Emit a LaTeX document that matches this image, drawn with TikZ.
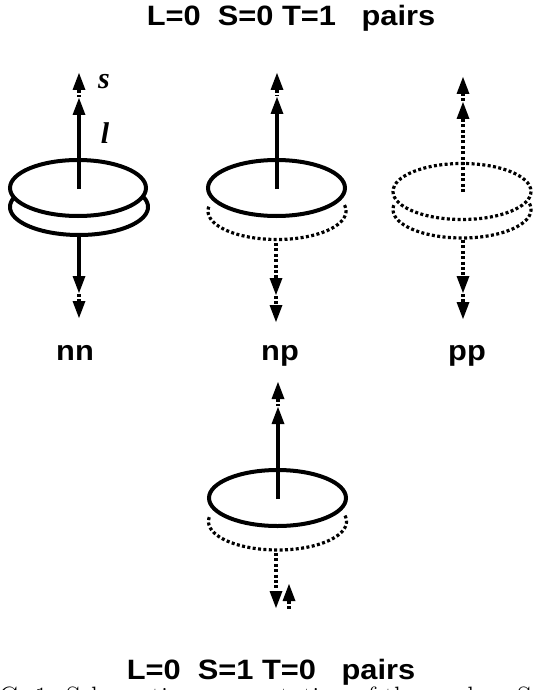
\documentclass[tikz,border=0pt]{standalone}
\usepackage{fontspec}
\setmainfont{Liberation Sans}
\newfontfamily\serifit{Liberation Serif}
\newfontfamily\captfont{Latin Modern Roman}
\newfontfamily\labfont[FakeStretch=1.1]{Liberation Sans Bold}
\definecolor{ink}{RGB}{0,0,0}
\tikzset{
  x=1pt,y=-1pt,
  solidline/.style={draw=ink,line width=4pt},
  dotline/.style={draw=ink,line width=3.2pt,dash pattern=on 3pt off 2.4pt},
  headfill/.style={fill=ink,draw=none},
  lab/.style={font=\fontsize{28}{30}\selectfont\labfont,inner sep=0pt,anchor=base},
  sym/.style={font=\fontsize{30}{32}\selectfont\serifit\bfseries\itshape,inner sep=0pt,anchor=base},
  capt/.style={font=\fontsize{28}{30}\selectfont\captfont,inner sep=0pt,anchor=base west}
}
\newcommand{\upH}[2]{\path[headfill] (#1,#2) -- ++(6.5,17) -- ++(-13,0) -- cycle;}
\newcommand{\dnH}[2]{\path[headfill] (#1,#2) -- ++(6.5,-17) -- ++(-13,0) -- cycle;}
\newcommand{\lowarc}[5][dotline]{\draw[#1] plot[domain=-12:192,samples=90] ({#2+#4*cos(\x)},{#3+#5*sin(\x)});}
\begin{document}
\begin{tikzpicture}
\useasboundingbox (0,0) rectangle (533,690);
\clip (0,0) rectangle (533,690);
\fill[white] (0,0) rectangle (533,690);
\node[lab] (title1) at (291,26) {L=0\ \ S=0 T=1\ \ \ pairs};
\node[lab] (title2) at (271,679) {L=0\ \ S=1 T=0\ \ \ pairs};
\node[capt] (caption) at (-1,706) {G. 1: Schematic representation of the nuclear S};
\node[lab] (nn) at (75,360) {nn};
\node[lab] (np) at (280,360) {np};
\node[lab] (pp) at (467,360) {pp};
\node[sym] (s) at (104,89) {s};
\node[sym] (l) at (105,143) {l};
% nn
\draw[solidline] plot[domain=-40:220,samples=90] ({79+69*cos(\x)},{207+28*sin(\x)});
\draw[solidline,fill=white] (78,188) ellipse [x radius=68,y radius=28];
\draw[solidline] (79,189) -- (79,113);
\upH{79}{73}\upH{79}{98}
\draw[dotline] (79,90) -- (79,97);
\draw[solidline] (79,237) -- (79,278);
\dnH{79}{293}\dnH{79}{318}
\draw[dotline] (79,294) -- (79,302);
% np
\lowarc{277}{211}{69}{28.5}
\draw[solidline] (276.5,188) ellipse [x radius=68.5,y radius=28];
\draw[solidline] (277,189) -- (277,112);
\upH{277}{73}\upH{277}{97}
\draw[dotline] (277,90) -- (277,96);
\draw[dotline] (276,243) -- (276,279);
\dnH{276}{295}\dnH{276}{322}
\draw[dotline] (276,296) -- (276,305);
% pp
\lowarc{462}{209.5}{69}{28.5}
\draw[dotline] (462,191.5) ellipse [x radius=69,y radius=28];
\draw[dotline] (463,192) -- (463,117);
\upH{463}{77}\upH{463}{102}
\draw[dotline] (463,93) -- (463,101);
\draw[dotline] (463,240) -- (463,278);
\dnH{463}{293}\dnH{463}{319}
\draw[dotline] (463,294) -- (463,303);
% bottom
\lowarc{277.5}{521.5}{69}{28.5}
\draw[solidline] (277.5,498) ellipse [x radius=68.5,y radius=28];
\draw[solidline] (278,499) -- (278,422);
\upH{278}{382}\upH{278}{407}
\draw[dotline] (278,399) -- (278,406);
\draw[dotline] (276,553) -- (276,592);
\dnH{276}{608}
\upH{289}{584}
\draw[dotline] (289,601) -- (289,609);
\end{tikzpicture}
\end{document}
